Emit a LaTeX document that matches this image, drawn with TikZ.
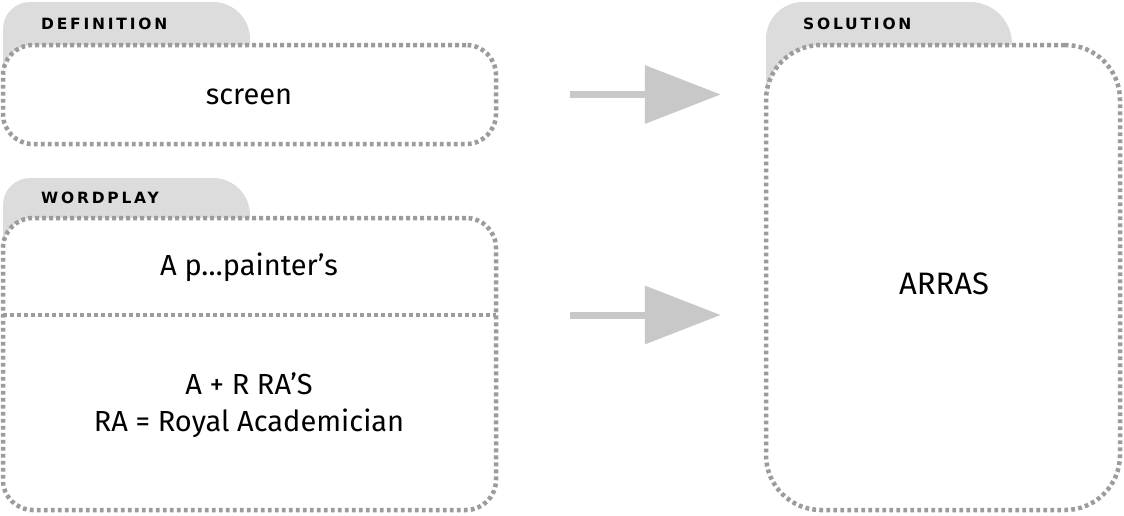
\documentclass[tikz,border=0pt]{standalone}
\usepackage{fontspec}
\setmainfont{Fira Sans}
\newfontfamily\labelfont[LetterSpace=18]{DejaVu Sans}
\usetikzlibrary{arrows.meta}
\definecolor{tabgray}{HTML}{DCDCDC}
\definecolor{dotgray}{HTML}{9C9C9C}
\definecolor{arrowgray}{HTML}{C8C8C8}
\tikzset{
  dotbox/.style={draw=dotgray, fill=white, line width=4.5pt, dash pattern=on 3.8pt off 3.2pt, inner sep=0pt},
  dotline/.style={draw=dotgray, line width=4.5pt, dash pattern=on 3.8pt off 3.2pt},
  tabfill/.style={fill=tabgray},
  tablabel/.style={anchor=west, font=\labelfont\bfseries\fontsize{15.5}{15.5}\selectfont, inner sep=0pt},
  bodytext/.style={font=\fontsize{29}{37}\selectfont, inner sep=0pt, align=center},
  bigarrow/.style={draw=arrowgray, line width=7pt, -{Triangle[length=76pt, width=57pt]}}
}
\begin{document}
\begin{tikzpicture}[x=1pt,y=-1pt]
\useasboundingbox (0,0) rectangle (1124,515);
% tabs
\fill[tabfill] (3,90) -- (3,29) arc[start angle=180, end angle=270, radius=27] -- (213,2) arc[start angle=270, end angle=360, radius=37] -- (250,90) -- cycle;
\fill[tabfill] (3,260) -- (3,205) arc[start angle=180, end angle=270, radius=27] -- (213,178) arc[start angle=270, end angle=360, radius=37] -- (250,260) -- cycle;
\fill[tabfill] (766,120) -- (766,39) arc[start angle=180, end angle=270, radius=37] -- (970,2) arc[start angle=270, end angle=360, radius=42] -- (1012,120) -- cycle;
% boxes
\node[dotbox, rounded corners=30pt, minimum width=493pt, minimum height=99pt] (def) at (249.5,94.5) {};
\node[dotbox, rounded corners=30pt, minimum width=493pt, minimum height=292pt] (wp) at (249.5,364) {};
\node[dotbox, rounded corners=55pt, minimum width=354pt, minimum height=465pt] (sol) at (943,277.5) {};
% divider
\coordinate (divL) at (3,315);
\coordinate (divR) at (496,315);
\draw[dotline] (divL) -- (divR);
% labels
\node[tablabel] (lbdef) at (41,24) {DEFINITION};
\node[tablabel] (lbwp) at (41,198) {WORDPLAY};
\node[tablabel] (lbsol) at (803,24) {SOLUTION};
% texts
\node[bodytext] (tscreen) at (249,97) {screen};
\node[bodytext] (tpaint) at (249,267) {A p…painter’s};
\node[bodytext] (tra) at (249,405) {A + R RA’S\\RA = Royal Academician};
\node[bodytext, font=\fontsize{31}{36}\selectfont] (tarras) at (944,284) {ARRAS};
% arrows
\coordinate (a1s) at ([xshift=72pt]def.east);
\coordinate (a1e) at ([xshift=-43pt]sol.west |- a1s);
\coordinate (a2s) at ([xshift=72pt]wp.east |- divR);
\coordinate (a2e) at ([xshift=-43pt]sol.west |- divR);
\draw[bigarrow] (a1s) -- (a1e);
\draw[bigarrow] (a2s) -- (a2e);
\end{tikzpicture}
\end{document}
